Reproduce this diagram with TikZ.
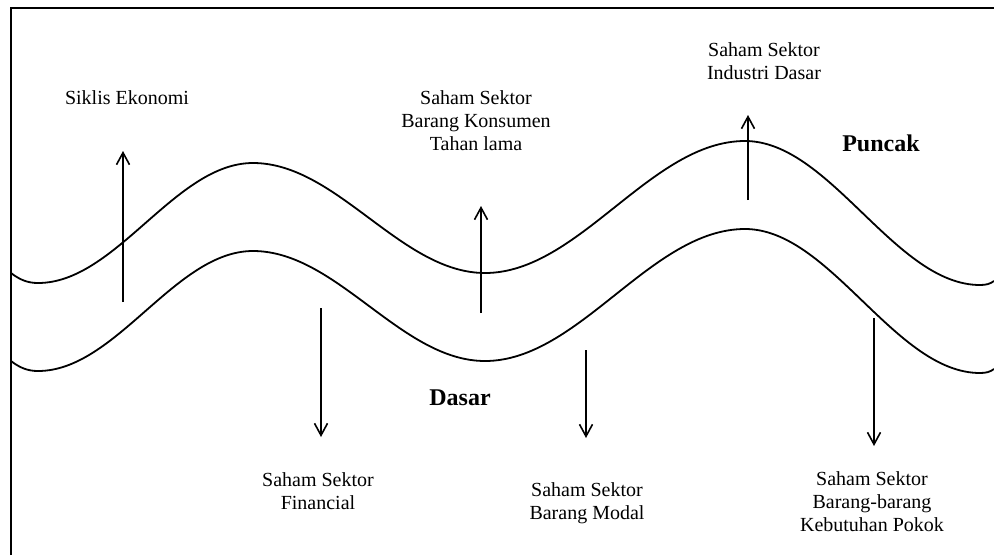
\documentclass[tikz,border=0pt]{standalone}
\usepackage{fontspec}
\setmainfont{Liberation Serif}
\usetikzlibrary{arrows.meta}
\begin{document}
\begin{tikzpicture}[x=1pt,y=-1pt,
  wave/.style={line width=1.8pt},
  upar/.style={line width=1.6pt,-{Straight Barb[length=12pt,width=13pt,line width=1.6pt]}},
  lbl/.style={font=\fontsize{20}{23}\selectfont,align=center,inner sep=0pt},
  blbl/.style={font=\fontsize{24}{27}\selectfont\bfseries,inner sep=0pt}]
\useasboundingbox (0,0) rectangle (994,555);
% frame
\draw[line width=2.4pt] (11,555) -- (11,8) -- (994,8);
% waves
\foreach \dy in {0,88}{
\draw[wave,yshift=-\dy pt] (11,273) .. controls (20,280) and (28,283) .. (38,283)
  .. controls (116,283) and (175,163) .. (253,163)
  .. controls (337,163) and (401,273) .. (485,273)
  .. controls (579,273) and (651,141) .. (745,141)
  .. controls (830,141) and (895,285) .. (980,285)
  .. controls (986,285) and (990,284) .. (994,281);
}
% labels
\node[lbl] (siklis) at (127,98) {Siklis Ekonomi};
\node[lbl] (konsumen) at (476,121) {Saham Sektor\\Barang Konsumen\\Tahan lama};
\node[lbl] (industri) at (764,61) {Saham Sektor\\Industri Dasar};
\node[blbl] (puncak) at (881,143) {Puncak};
\node[blbl] (dasar) at (460,398) {Dasar};
\node[lbl] (financial) at (318,491) {Saham Sektor\\Financial};
\node[lbl] (modal) at (587,503) {Saham Sektor\\Barang Modal};
\node[lbl] (pokok) at (872,502) {Saham Sektor\\Barang-barang\\Kebutuhan Pokok};
% arrow ends
\coordinate (a1s) at (123,302); \coordinate (a1e) at (123,151);
\coordinate (a2s) at (481,313); \coordinate (a2e) at (481,206);
\coordinate (a3s) at (748,200); \coordinate (a3e) at (748,115);
\coordinate (a4s) at (321,308); \coordinate (a4e) at (321,437);
\coordinate (a5s) at (586,350); \coordinate (a5e) at (586,438);
\coordinate (a6s) at (874,318); \coordinate (a6e) at (874,446);
\draw[upar] (a1s) -- (a1e);
\draw[upar] (a2s) -- (a2e);
\draw[upar] (a3s) -- (a3e);
\draw[upar] (a4s) -- (a4e);
\draw[upar] (a5s) -- (a5e);
\draw[upar] (a6s) -- (a6e);
\end{tikzpicture}
\end{document}
